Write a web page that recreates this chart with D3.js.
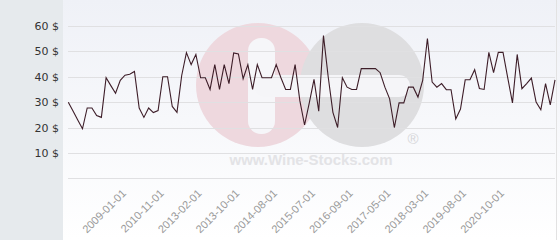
<!DOCTYPE html>
<meta charset="utf-8">
<script src="https://d3js.org/d3.v7.min.js"></script>
<style>
  body { margin: 0; }
</style>
<div id="vis"></div>
<script>

    // prices, one per sale
    var values = [30, 26.5, 23, 19.5, 27.7, 27.7, 24.7, 24, 39.6, 36.5,
        33.5, 38.6, 40.6, 41, 42.1, 27.7, 24, 27.7, 25.9, 26.7,
        40, 40, 28.3, 26, 40.5, 49.5, 44.8, 48.8, 39.6, 39.6,
        35, 44.8, 35, 44.8, 37.3, 49.4, 49, 39.2, 44.8, 35,
        44.8, 39.6, 39.6, 39.6, 44.8, 39.6, 35, 35, 44.8, 30.6,
        21, 29.7, 39, 26.4, 56.2, 40, 26, 20, 39.6, 35.9,
        35, 35, 43.2, 43.2, 43.2, 43.2, 41.6, 35.9, 31.3, 20,
        29.7, 29.7, 35.9, 35.9, 32, 38.6, 55.1, 37.9, 35.9, 37.3,
        34.9, 34.9, 23.4, 27.3, 38.8, 38.8, 42.8, 35.4, 35, 49.6,
        41.6, 49.6, 49.6, 39.6, 29.7, 48.8, 35.3, 37.3, 39.5, 30,
        27, 37.3, 28.9, 38.8]

    // date labels shown on the x axis and the point they sit under
    var tickLabels = ["2009-01-01", "2010-11-01", "2013-02-01", "2013-10-01", "2014-08-01",
        "2015-07-01", "2016-09-01", "2017-05-01", "2018-03-01", "2019-08-01", "2020-10-01"]
    var tickIndex = [13, 21, 29, 37, 45, 53, 61, 69, 77, 85, 93]

    var yTicks = [0, 10, 20, 30, 40, 50, 60]

    var W = 560, H = 240

    var svg = d3.select("#vis")
        .append("svg")
        .attr("width", W)
        .attr("height", H)

    var defs = svg.append("defs")
    var grad = defs.append("linearGradient")
        .attr("id", "bg")
        .attr("x1", 0).attr("y1", 0).attr("x2", 0).attr("y2", 1)
    grad.append("stop").attr("offset", "0%").attr("stop-color", "#eff1f7")
    grad.append("stop").attr("offset", "100%").attr("stop-color", "#ffffff")

    // backgrounds
    svg.append("rect").attr("x", 0).attr("y", 0).attr("width", W).attr("height", H)
        .attr("fill", "url(#bg)")
    svg.append("rect").attr("x", 0).attr("y", 0).attr("width", 63).attr("height", H)
        .attr("fill", "#e6eaed")
    svg.append("line").attr("x1", 556.5).attr("x2", 556.5).attr("y1", 0).attr("y2", H)
        .attr("stroke", "#e2e2e2")

    // scales
    var x = d3.scalePoint()
        .domain(d3.range(values.length))
        .range([68.3, 555])
    var y = d3.scaleLinear()
        .domain([0, 60])
        .range([178.3, 26])

    // watermark logo
    var wm = svg.append("g")
    wm.append("circle").attr("cx", 258).attr("cy", 85).attr("r", 62).attr("fill", "#eed8de")
    wm.append("circle").attr("cx", 362).attr("cy", 85).attr("r", 62).attr("fill", "#dedee0")
    wm.append("rect").attr("x", 248).attr("y", 38).attr("width", 27).attr("height", 96)
        .attr("rx", 13).attr("fill", "#f6f6f9")
    wm.append("rect").attr("x", 255).attr("y", 75).attr("width", 155).attr("height", 22)
        .attr("rx", 11).attr("fill", "#f5f5f8")
    wm.append("text").attr("x", 311).attr("y", 165)
        .attr("text-anchor", "middle")
        .attr("textLength", 163)
        .style("font-family", "Liberation Sans, Arial, sans-serif")
        .style("font-weight", "bold")
        .style("font-size", "15px")
        .style("fill", "#e3e3e6")
        .text("www.Wine-Stocks.com")
    wm.append("text").attr("x", 413).attr("y", 144)
        .attr("text-anchor", "middle")
        .style("font-family", "Liberation Sans, Arial, sans-serif")
        .style("font-size", "15px")
        .style("fill", "#d6d6d9")
        .text("®")

    // y grid and labels
    var yAxis = svg.append("g")
        .attr("transform", "translate(68,0)")
        .call(d3.axisLeft(y).tickValues(yTicks).tickSize(-487)
            .tickFormat(function (d) { return d === 0 ? "" : d + " $" }))
    yAxis.select(".domain").remove()
    yAxis.selectAll(".tick line").attr("stroke", "#e0e0e2").attr("shape-rendering", "crispEdges")
    yAxis.selectAll(".tick text")
        .attr("x", -9)
        .style("font-family", "DejaVu Sans, sans-serif")
        .style("font-size", "11px")
        .style("fill", "#333")

    // x labels
    svg.append("g")
        .selectAll("text")
        .data(tickIndex)
        .enter()
        .append("text")
        .attr("transform", function (d) { return "translate(" + (x(d) - 3) + ",194) rotate(-45)" })
        .attr("text-anchor", "end")
        .style("font-family", "Liberation Sans, Arial, sans-serif")
        .style("font-size", "11px")
        .style("fill", "#999")
        .text(function (d, i) { return tickLabels[i] })

    // price line
    var line = d3.line()
        .x(function (d, i) { return x(i) })
        .y(function (d) { return y(d) })
    svg.append("path")
        .datum(values)
        .attr("d", line)
        .attr("fill", "none")
        .attr("stroke", "#3d1d28")
        .attr("stroke-width", 1.1)

</script>
